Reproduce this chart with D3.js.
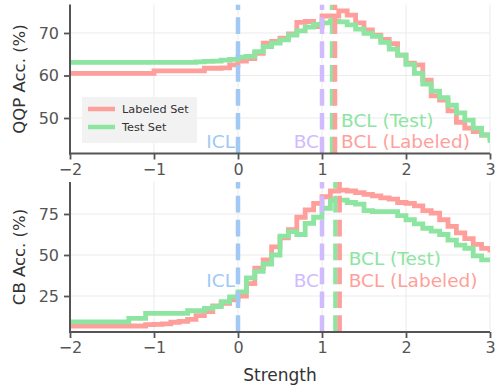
<!DOCTYPE html>
<html>
<head>
<meta charset="utf-8">
<script src="https://cdn.jsdelivr.net/npm/d3@7"></script>
<style>
  body { margin: 0; background: #fff; }
  svg { display: block; font-family: "DejaVu Sans", sans-serif; }
</style>
</head>
<body>
<div id="chart"></div>
<script>
// strength values (x), one reading every 0.1
const strengths = [-2.0, -1.9, -1.8, -1.7, -1.6, -1.5, -1.4, -1.3, -1.2, -1.1,
  -1.0, -0.9, -0.8, -0.7, -0.6, -0.5, -0.4, -0.3, -0.2, -0.1,
  0.0, 0.1, 0.2, 0.3, 0.4, 0.5, 0.6, 0.7, 0.8, 0.9,
  1.0, 1.1, 1.2, 1.3, 1.4, 1.5, 1.6, 1.7, 1.8, 1.9,
  2.0, 2.1, 2.2, 2.3, 2.4, 2.5, 2.6, 2.7, 2.8, 2.9, 3.0];

const qqpLabeled = [60.5, 60.5, 60.5, 60.5, 60.5, 60.5, 60.5, 60.5, 60.5, 60.5,
  61.1, 61.1, 61.1, 61.1, 61.1, 61.1, 61.7, 61.7, 61.8, 62.5,
  63.4, 64.0, 65.2, 67.6, 68.0, 68.8, 69.8, 72.5, 72.7, 71.5,
  74.0, 74.0, 75.2, 74.2, 72.4, 70.7, 69.5, 68.5, 67.5, 64.8,
  62.9, 62.5, 58.9, 55.2, 54.2, 51.7, 49.0, 47.6, 46.8, 46.0, 44.8];
const qqpTest = [63.1, 63.1, 63.1, 63.1, 63.1, 63.1, 63.1, 63.1, 63.1, 63.1,
  63.1, 63.1, 63.1, 63.1, 63.1, 63.2, 63.3, 63.4, 63.6, 63.8,
  64.3, 64.5, 65.6, 66.8, 67.6, 68.4, 69.5, 70.5, 71.4, 72.0,
  72.4, 72.7, 72.6, 71.9, 70.9, 69.9, 69.2, 67.8, 66.2, 64.8,
  62.6, 60.5, 58.0, 56.3, 54.8, 53.0, 51.2, 49.5, 47.6, 46.0, 44.2];

const cbLabeled = [6.7, 6.7, 6.7, 6.7, 6.7, 6.7, 6.7, 6.7, 6.7, 7.5,
  7.7, 8.0, 9.0, 9.5, 10.8, 13.0, 15.5, 19.0, 20.5, 22.6,
  25.0, 32.5, 42.0, 47.0, 55.0, 60.5, 65.5, 73.0, 77.5, 81.5,
  85.5, 89.0, 89.6, 89.0, 88.0, 87.0, 86.0, 84.8, 84.0, 82.0,
  81.5, 80.0, 77.0, 75.5, 71.5, 67.5, 63.5, 60.0, 56.5, 54.0, 51.5];
const cbTest = [9.2, 9.2, 9.2, 9.2, 9.2, 9.2, 9.2, 11.4, 11.4, 14.4,
  14.4, 14.4, 14.4, 14.4, 16.0, 16.0, 17.5, 18.5, 21.5, 24.5,
  27.5, 36.0, 40.0, 44.5, 50.0, 61.5, 64.2, 62.5, 69.3, 73.0,
  78.5, 83.2, 83.5, 82.0, 81.0, 77.0, 76.4, 76.4, 76.4, 74.0,
  71.5, 69.0, 66.3, 64.5, 62.5, 59.1, 56.0, 54.1, 49.5, 47.0, 45.5];

const xTicks = [-2, -1, 0, 1, 2, 3];
const qqpTicks = [50, 60, 70];
const cbTicks = [25, 50, 75];
const seriesNames = ['Labeled Set', 'Test Set'];

// reference lines: ICL at 0, BC at 1, BCL where each set peaks
const iclX = 0;
const bcX = 1;
const qqpBcl = { test: 1.12, labeled: 1.155 };
const cbBcl = { test: 1.16, labeled: 1.21 };

const W = 495, H = 387;
const colors = { labeled: '#ff9f9b', test: '#8de5a1', icl: '#a1c9f4', bc: '#d0bbff' };
const axisGray = '#555';
const textGray = '#555';
const gridGray = '#ebebeb';

const svg = d3.select('#chart').append('svg')
  .attr('width', W)
  .attr('height', H);

const x = d3.scaleLinear().domain([-2, 3]).range([70, 490]);

function drawPanel(opts) {
  const y = d3.scaleLinear().domain(opts.domain).range([opts.bottom, opts.top]);
  const g = svg.append('g');

  // grid
  g.append('g').selectAll('line')
    .data(xTicks)
    .enter().append('line')
    .attr('x1', d => x(d)).attr('x2', d => x(d))
    .attr('y1', opts.top).attr('y2', opts.bottom)
    .attr('stroke', gridGray).attr('stroke-width', 1);
  g.append('g').selectAll('line')
    .data(opts.yTicks)
    .enter().append('line')
    .attr('x1', 70).attr('x2', 490)
    .attr('y1', d => y(d)).attr('y2', d => y(d))
    .attr('stroke', gridGray).attr('stroke-width', 1);

  const clipId = 'clip-' + opts.name;
  svg.append('clipPath').attr('id', clipId)
    .append('rect')
    .attr('x', 70).attr('y', opts.top)
    .attr('width', 420).attr('height', opts.bottom - opts.top);

  const plot = g.append('g').attr('clip-path', `url(#${clipId})`);

  const line = d3.line()
    .x(d => x(d[0]))
    .y(d => y(d[1]))
    .curve(d3.curveStepAfter);

  plot.append('path')
    .datum(d3.zip(strengths, opts.labeled))
    .attr('fill', 'none')
    .attr('stroke', colors.labeled)
    .attr('stroke-width', 4.8)
    .attr('d', line);
  plot.append('path')
    .datum(d3.zip(strengths, opts.test))
    .attr('fill', 'none')
    .attr('stroke', colors.test)
    .attr('stroke-width', 4.8)
    .attr('d', line);

  // dashed vertical markers, drawn bottom-up so the dash phase starts at the axis
  const vlines = [
    { v: iclX, c: colors.icl },
    { v: bcX, c: colors.bc },
    { v: opts.bcl.test, c: colors.test },
    { v: opts.bcl.labeled, c: colors.labeled }
  ];
  plot.append('g').selectAll('line')
    .data(vlines)
    .enter().append('line')
    .attr('x1', d => x(d.v)).attr('x2', d => x(d.v))
    .attr('y1', opts.bottom).attr('y2', opts.top)
    .attr('stroke', d => d.c)
    .attr('stroke-width', 4.5)
    .attr('stroke-dasharray', '16.7 7.2');

  // annotations
  const bclLeft = x(opts.bcl.labeled) + opts.bclPad;
  const notes = [
    { t: 'ICL', x: x(iclX) - 3, y: opts.noteY, c: colors.icl, a: 'end' },
    { t: 'BC', x: x(bcX) - 3, y: opts.noteY, c: colors.bc, a: 'end' },
    { t: 'BCL (Test)', x: bclLeft, y: opts.noteY - opts.noteGap, c: colors.test, a: 'start' },
    { t: 'BCL (Labeled)', x: bclLeft, y: opts.noteY, c: colors.labeled, a: 'start' }
  ];
  g.append('g').selectAll('text')
    .data(notes)
    .enter().append('text')
    .attr('x', d => d.x).attr('y', d => d.y)
    .attr('text-anchor', d => d.a)
    .attr('fill', d => d.c)
    .attr('font-size', '18.5px')
    .text(d => d.t);

  // axes
  const xAxis = g.append('g')
    .attr('transform', `translate(0,${opts.bottom})`)
    .call(d3.axisBottom(x).tickValues(xTicks).tickSize(6).tickPadding(4)
      .tickFormat(d => d < 0 ? '\u2212' + Math.abs(d) : d));
  const yAxis = g.append('g')
    .attr('transform', 'translate(70,0)')
    .call(d3.axisLeft(y).tickValues(opts.yTicks).tickSize(6).tickPadding(5));

  [xAxis, yAxis].forEach(ax => {
    ax.select('.domain').remove();
    ax.selectAll('.tick line').attr('stroke', axisGray).attr('stroke-width', 1.8);
    ax.selectAll('.tick text')
      .attr('fill', textGray)
      .attr('font-size', '16px')
      .attr('font-family', '"DejaVu Sans", sans-serif');
  });

  // spines (left + bottom)
  g.append('line')
    .attr('x1', 70).attr('x2', 70)
    .attr('y1', opts.top).attr('y2', opts.bottom + 1)
    .attr('stroke', axisGray).attr('stroke-width', 2);
  g.append('line')
    .attr('x1', 69).attr('x2', 490)
    .attr('y1', opts.bottom).attr('y2', opts.bottom)
    .attr('stroke', axisGray).attr('stroke-width', 2);

  g.append('text')
    .attr('transform', `translate(19,${(opts.top + opts.bottom) / 2}) rotate(-90)`)
    .attr('text-anchor', 'middle')
    .attr('dy', '0.35em')
    .attr('fill', '#333')
    .attr('font-size', '16.5px')
    .text(opts.ylabel);

  return y;
}

drawPanel({
  name: 'qqp',
  top: 4.5, bottom: 153.5,
  domain: [41.65, 76.7],
  yTicks: qqpTicks,
  labeled: qqpLabeled, test: qqpTest,
  bcl: qqpBcl, bclPad: 6,
  noteY: 148, noteGap: 21.5,
  ylabel: 'QQP Acc. (%)'
});

drawPanel({
  name: 'cb',
  top: 182, bottom: 332,
  domain: [3.05, 94.5],
  yTicks: cbTicks,
  labeled: cbLabeled, test: cbTest,
  bcl: cbBcl, bclPad: 9,
  noteY: 287, noteGap: 22,
  ylabel: 'CB Acc. (%)'
});

// legend in the top panel
const legend = svg.append('g').attr('transform', 'translate(82,97)');
legend.append('rect')
  .attr('width', 115).attr('height', 46)
  .attr('fill', '#f2f2f2');
seriesNames.forEach((name, i) => {
  const ly = 12 + i * 18;
  legend.append('line')
    .attr('x1', 6).attr('x2', 33)
    .attr('y1', ly).attr('y2', ly)
    .attr('stroke', i === 0 ? colors.labeled : colors.test)
    .attr('stroke-width', 4.5);
  legend.append('text')
    .attr('x', 40).attr('y', ly)
    .attr('dy', '0.35em')
    .attr('fill', '#333')
    .attr('font-size', '11.3px')
    .text(name);
});

svg.append('text')
  .attr('x', 280).attr('y', 381)
  .attr('text-anchor', 'middle')
  .attr('fill', '#333')
  .attr('font-size', '17px')
  .text('Strength');
</script>
</body>
</html>
